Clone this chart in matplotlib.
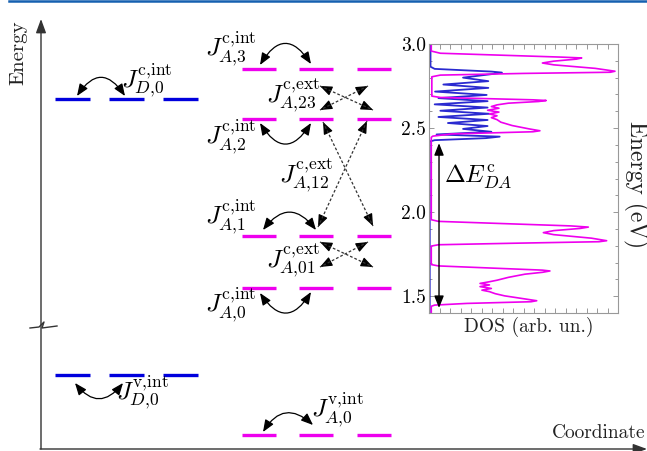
import matplotlib.pyplot as plt
from matplotlib.patches import FancyArrowPatch
from matplotlib.ticker import MultipleLocator
import numpy as np

plt.rcParams['font.family'] = 'cmr10'
plt.rcParams['mathtext.fontset'] = 'cm'
plt.rcParams['axes.formatter.use_mathtext'] = True

# --- schematic layout (pixel units, y grows downwards) ---
donor_x = [55, 109, 163]
donor_y = [99, 375]          # conduction, valence
acceptor_x = [242, 299, 357]
acceptor_y = [69, 119, 236, 288, 435]
level_len = 35

# curved intra-site couplings: start, end, bend
int_arcs = [
    ((77, 96), (125, 96), -0.75),
    ((75, 383), (123, 383), 0.63),
    ((260, 65), (311, 64), -0.8),
    ((260, 123), (311, 123), 0.8),
    ((263, 230), (316, 230), -0.65),
    ((260, 293), (311, 292), 0.78),
    ((263, 432), (313, 425), -0.6),
]

# dashed inter-level couplings
ext_links = [
    ((320, 86), (373, 110)), ((368, 86), (320, 110)),
    ((323, 122), (373, 226)), ((367, 121), (318, 227)),
    ((320, 242), (373, 267)), ((368, 242), (320, 267)),
]

labels = [
    (121, 81, r'$J^{\mathrm{c{,}int}}_{D{,}0}$'),
    (116, 393, r'$J^{\mathrm{v{,}int}}_{D{,}0}$'),
    (205, 49, r'$J^{\mathrm{c{,}int}}_{A{,}3}$'),
    (266, 95, r'$J^{\mathrm{c{,}ext}}_{A{,}23}$'),
    (205, 137, r'$J^{\mathrm{c{,}int}}_{A{,}2}$'),
    (279, 175, r'$J^{\mathrm{c{,}ext}}_{A{,}12}$'),
    (205, 217, r'$J^{\mathrm{c{,}int}}_{A{,}1}$'),
    (266, 260, r'$J^{\mathrm{c{,}ext}}_{A{,}01}$'),
    (205, 305, r'$J^{\mathrm{c{,}int}}_{A{,}0}$'),
    (311, 410, r'$J^{\mathrm{v{,}int}}_{A{,}0}$'),
]

# --- DOS curves (energy in eV, DOS in arb. units) ---
acc_e = [3.000, 2.958, 2.945, 2.922, 2.917, 2.910, 2.898, 2.887, 2.876, 2.855,
         2.838, 2.832, 2.825, 2.815, 2.805, 2.690, 2.682, 2.668, 2.664, 2.658,
         2.648, 2.638, 2.628, 2.618, 2.606, 2.595, 2.584, 2.573, 2.562, 2.550,
         2.535, 2.515, 2.495, 2.484, 2.478, 2.465, 2.452, 2.445, 1.955, 1.945,
         1.918, 1.911, 1.903, 1.890, 1.878, 1.866, 1.845, 1.830, 1.824, 1.815,
         1.806, 1.798, 1.688, 1.680, 1.655, 1.650, 1.642, 1.631, 1.612, 1.595,
         1.586, 1.576, 1.567, 1.557, 1.546, 1.536, 1.527, 1.515, 1.502, 1.485,
         1.473, 1.467, 1.457, 1.447, 1.440, 1.400]
acc_dos = [0.012, 0.012, 0.06, 0.70, 0.808, 0.78, 0.66, 0.600, 0.66, 0.88,
           0.984, 0.96, 0.50, 0.06, 0.015, 0.015, 0.06, 0.55, 0.62, 0.58,
           0.42, 0.36, 0.33, 0.37, 0.31, 0.37, 0.32, 0.36, 0.33, 0.36,
           0.38, 0.44, 0.53, 0.587, 0.55, 0.12, 0.02, 0.012, 0.012, 0.05,
           0.75, 0.843, 0.80, 0.66, 0.605, 0.66, 0.86, 0.940, 0.90, 0.45,
           0.05, 0.012, 0.012, 0.05, 0.60, 0.640, 0.60, 0.508, 0.42, 0.36,
           0.32, 0.27, 0.32, 0.27, 0.33, 0.28, 0.32, 0.35, 0.40, 0.50,
           0.57, 0.54, 0.20, 0.03, 0.012, 0.012]

don_e = [3.000, 2.865, 2.852, 2.836, 2.830, 2.822, 2.800, 2.779, 2.759, 2.739,
         2.717, 2.697, 2.678, 2.660, 2.641, 2.622, 2.603, 2.585, 2.566, 2.548,
         2.530, 2.512, 2.495, 2.478, 2.462, 2.449, 2.440, 2.428, 2.420, 1.400]
don_dos = [0.008, 0.008, 0.03, 0.33, 0.386, 0.34, 0.18, 0.314, 0.076, 0.314,
           0.032, 0.305, 0.05, 0.31, 0.03, 0.31, 0.06, 0.32, 0.05, 0.31,
           0.10, 0.31, 0.18, 0.33, 0.04, 0.374, 0.30, 0.03, 0.004, 0.004]

gap_e = [1.43, 2.41]   # lowest acceptor / donor states

blue = '#0000dd'
magenta = '#ee00ee'
head = '<|-|>,head_length=0.6,head_width=0.24'
tip = '-|>,head_length=0.6,head_width=0.24'

fig = plt.figure(figsize=(6.47, 4.51), dpi=100)
ax = fig.add_axes([0, 0, 1, 1])
ax.set_xlim(0, 647)
ax.set_ylim(451, 0)
ax.axis('off')

# header rule
ax.plot([9, 647], [1, 1], color='#1560b0', lw=1.8, clip_on=False)

# energy / coordinate axes
ax.annotate('', xy=(41, 19), xytext=(41, 449),
            arrowprops=dict(arrowstyle='-|>,head_length=0.6,head_width=0.22',
                            mutation_scale=14, color='#333333', lw=1.0,
                            shrinkA=0, shrinkB=0))
ax.annotate('', xy=(647, 449), xytext=(40, 449),
            arrowprops=dict(arrowstyle='-|>,head_length=0.6,head_width=0.22',
                            mutation_scale=14, color='#333333', lw=1.0,
                            shrinkA=0, shrinkB=0))
ax.plot([30, 39, 44, 42, 57], [328, 327, 322, 328, 326], color='#333333', lw=1.0)
ax.text(18, 53, 'Energy', rotation=90, ha='center', va='center', fontsize=15,
        color='#222222')
ax.text(645, 433, 'Coordinate', ha='right', va='center', fontsize=14,
        color='#222222')

# energy levels
for y in donor_y:
    for x in donor_x:
        ax.plot([x, x + level_len], [y, y], color=blue, lw=2.4,
                solid_capstyle='butt')
for y in acceptor_y:
    for x in acceptor_x:
        ax.plot([x, x + level_len - 1], [y, y], color=magenta, lw=2.4,
                solid_capstyle='butt')

for p, q, rad in int_arcs:
    ax.add_patch(FancyArrowPatch(p, q, connectionstyle=f'arc3,rad={rad}',
                                 arrowstyle=head, mutation_scale=12,
                                 color='k', lw=0.9, shrinkA=0, shrinkB=0))

for p, q in ext_links:
    p, q = np.array(p, float), np.array(q, float)
    ax.plot([p[0], q[0]], [p[1], q[1]], color='#333333', lw=0.9,
            linestyle=(0, (2.2, 1.6)))
    u = (q - p) / np.hypot(*(q - p))
    for end, back in ((p, p + 7 * u), (q, q - 7 * u)):
        ax.add_patch(FancyArrowPatch(tuple(back), tuple(end), arrowstyle=tip,
                                     mutation_scale=12, color='k', lw=0.9,
                                     shrinkA=0, shrinkB=0))

for x, y, s in labels:
    ax.text(x, y, s, fontsize=18, ha='left', va='center')

# --- DOS inset ---
ins = fig.add_axes([429 / 647, 138 / 451, 189 / 647, 269 / 451])
ins.plot(don_dos, don_e, color='#2a2ad0', lw=1.3)
ins.plot(acc_dos, acc_e, color=magenta, lw=1.2)
ins.set_xlim(0, 1.0)
ins.set_ylim(1.4, 3.0)
ins.xaxis.set_major_locator(MultipleLocator(1 / 18))
ins.yaxis.set_major_locator(MultipleLocator(0.5))
ins.yaxis.set_minor_locator(MultipleLocator(0.1))
ins.set_xticklabels([])
ins.tick_params(which='both', direction='in', top=True, right=True,
                color='#888888', width=0.6, labelsize=14, pad=2)
ins.tick_params(which='major', length=3.5)
ins.tick_params(which='minor', length=2)
ins.set_yticks([1.5, 2.0, 2.5, 3.0])
ins.set_yticklabels(['1.5', '2.0', '2.5', '3.0'])
for sp in ins.spines.values():
    sp.set_color('#999999')
    sp.set_linewidth(0.8)

ins.annotate('', xy=(0.053, gap_e[1]), xytext=(0.053, gap_e[0]),
             arrowprops=dict(arrowstyle=head, mutation_scale=12, color='k',
                             lw=1.0, shrinkA=0, shrinkB=0))
ins.text(0.26, 2.21, r'$\Delta E^{\rm c}_{DA}$', fontsize=18, ha='center',
         va='center')

fig.text(529 / 647, 1 - 327 / 451, 'DOS (arb. un.)', ha='center', va='center',
         fontsize=14, color='#222222')
fig.text(636 / 647, 1 - 185 / 451, 'Energy (eV)', rotation=270, ha='center',
         va='center', fontsize=17, color='#222222')

fig.savefig('out.png', dpi=100)
